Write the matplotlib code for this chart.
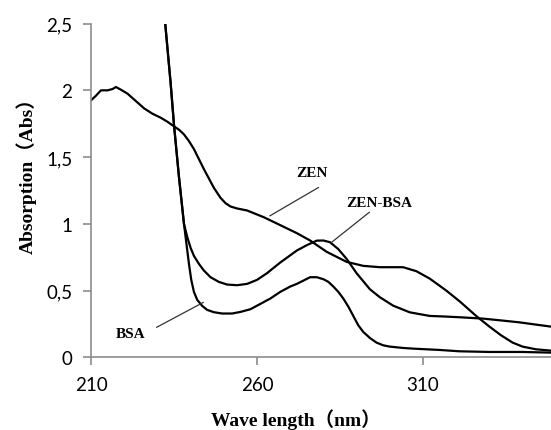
import matplotlib
matplotlib.use("Agg")
import matplotlib.pyplot as plt
from matplotlib.ticker import FuncFormatter

# spectra (wavelength nm, absorbance)
zen_x = [210, 211.5, 213, 215, 216.5, 217.5, 219, 221, 223.5, 226, 228.5, 231, 233,
         235, 236.5, 238, 239.5, 241, 244, 247, 249, 250.5, 252, 254, 257, 262, 267, 272,
         276, 281, 287, 292, 297, 304, 308, 312, 317, 321, 326, 330, 333.5, 337, 340,
         344, 348.5]
zen_y = [1.925, 1.96, 2.0, 2.0, 2.01, 2.025, 2.005, 1.975, 1.92, 1.865, 1.825, 1.795,
         1.765, 1.73, 1.705, 1.67, 1.62, 1.56, 1.41, 1.27, 1.195, 1.155, 1.13, 1.115,
         1.10, 1.05, 0.99, 0.93, 0.875, 0.79, 0.715, 0.685, 0.675, 0.675, 0.645, 0.59,
         0.50, 0.42, 0.31, 0.23, 0.165, 0.11, 0.08, 0.06, 0.05]

zenbsa_x = [231.5, 232.5, 234, 235, 236.5, 238, 239, 240, 241, 242.5, 244, 246, 248.5,
            251, 254, 257, 260, 263, 267, 272, 275, 278, 280, 282, 284.5, 287, 290, 294,
            297, 301, 306, 312, 317, 321, 328, 334, 339, 344, 348.5]
zenbsa_y = [2.75, 2.46, 2.05, 1.74, 1.35, 1.0, 0.9, 0.82, 0.76, 0.70, 0.65, 0.60, 0.565,
            0.545, 0.54, 0.55, 0.58, 0.63, 0.71, 0.80, 0.84, 0.874, 0.875, 0.862, 0.81,
            0.737, 0.63, 0.51, 0.45, 0.387, 0.337, 0.31, 0.305, 0.30, 0.29, 0.275, 0.262,
            0.245, 0.23]

bsa_x = [231.5, 232.5, 234, 235, 236.5, 238, 238.8, 239.5, 240.2, 241, 242, 243.5, 245,
         247, 249.5, 252.5, 255, 258, 261, 264, 267, 270, 272, 274, 276, 278, 280, 281.5,
         283, 284.5, 286, 287.5, 289, 290.5, 292, 294, 296, 298, 300, 304, 307, 315, 321,
         330, 340, 348.5]
bsa_y = [2.75, 2.46, 2.05, 1.74, 1.35, 1.0, 0.84, 0.70, 0.58, 0.49, 0.43, 0.385, 0.355,
         0.338, 0.328, 0.328, 0.34, 0.36, 0.40, 0.44, 0.49, 0.53, 0.55, 0.575, 0.60, 0.60,
         0.585, 0.565, 0.53, 0.49, 0.44, 0.38, 0.31, 0.24, 0.19, 0.145, 0.11, 0.09, 0.08,
         0.07, 0.065, 0.055, 0.045, 0.04, 0.04, 0.035]

x_ticks = [210, 260, 310]
y_ticks = [0, 0.5, 1, 1.5, 2, 2.5]

# curve labels: name, text position, leader start, leader end
labels = ["ZEN", "ZEN-BSA", "BSA"]
label_pos = [(276.6, 1.386), (296.9, 1.158), (222.0, 0.182)]
leader_from = [(278.5, 1.272), (293.8, 1.086), (229.8, 0.225)]
leader_to = [(263.9, 1.06), (282.5, 0.862), (243.8, 0.411)]


def comma(v, pos):
    s = ("%g" % v)
    return s.replace(".", ",")


def main():
    fig = plt.figure(figsize=(5.51, 4.31), dpi=100)
    ax = fig.add_axes([91 / 551, 72.7 / 431, 460 / 551, 333.7 / 431])

    for xs, ys in [(zen_x, zen_y), (zenbsa_x, zenbsa_y), (bsa_x, bsa_y)]:
        ax.plot(xs, ys, color="black", lw=1.6, solid_joinstyle="round")

    ax.set_xlim(210, 348.55)
    ax.set_ylim(0, 2.5)
    ax.set_xticks(x_ticks)
    ax.set_yticks(y_ticks)
    ax.yaxis.set_major_formatter(FuncFormatter(comma))

    for side in ["top", "right"]:
        ax.spines[side].set_visible(False)
    for side in ["left", "bottom"]:
        ax.spines[side].set_color("#8c8c8c")
        ax.spines[side].set_linewidth(1.2)
    ax.tick_params(direction="out", length=5.5, width=1.2, color="#8c8c8c",
                   labelsize=13.5)
    for t in ax.get_xticklabels() + ax.get_yticklabels():
        t.set_fontfamily("Lato")
        t.set_color("black")
    ax.tick_params(axis="x", pad=8)
    ax.tick_params(axis="y", pad=8)

    serif = ["Liberation Serif", "Noto Sans CJK SC"]
    fig.text(296 / 551, 1 - 420 / 431, "Wave length（nm）", ha="center", va="center",
             fontsize=14, fontweight="bold", family=serif)
    fig.text(26 / 551, 1 - 171 / 431, "Absorption（Abs）", ha="center", va="center",
             rotation=90, fontsize=14, fontweight="bold", family=serif)

    for name, p, a, b in zip(labels, label_pos, leader_from, leader_to):
        ax.text(p[0], p[1], name, ha="center", va="center", fontsize=11,
                fontweight="bold", family="Liberation Serif")
        ax.plot([a[0], b[0]], [a[1], b[1]], color="#333333", lw=0.9)

    fig.savefig("out.png", dpi=100)


if __name__ == '__main__':
    main()
